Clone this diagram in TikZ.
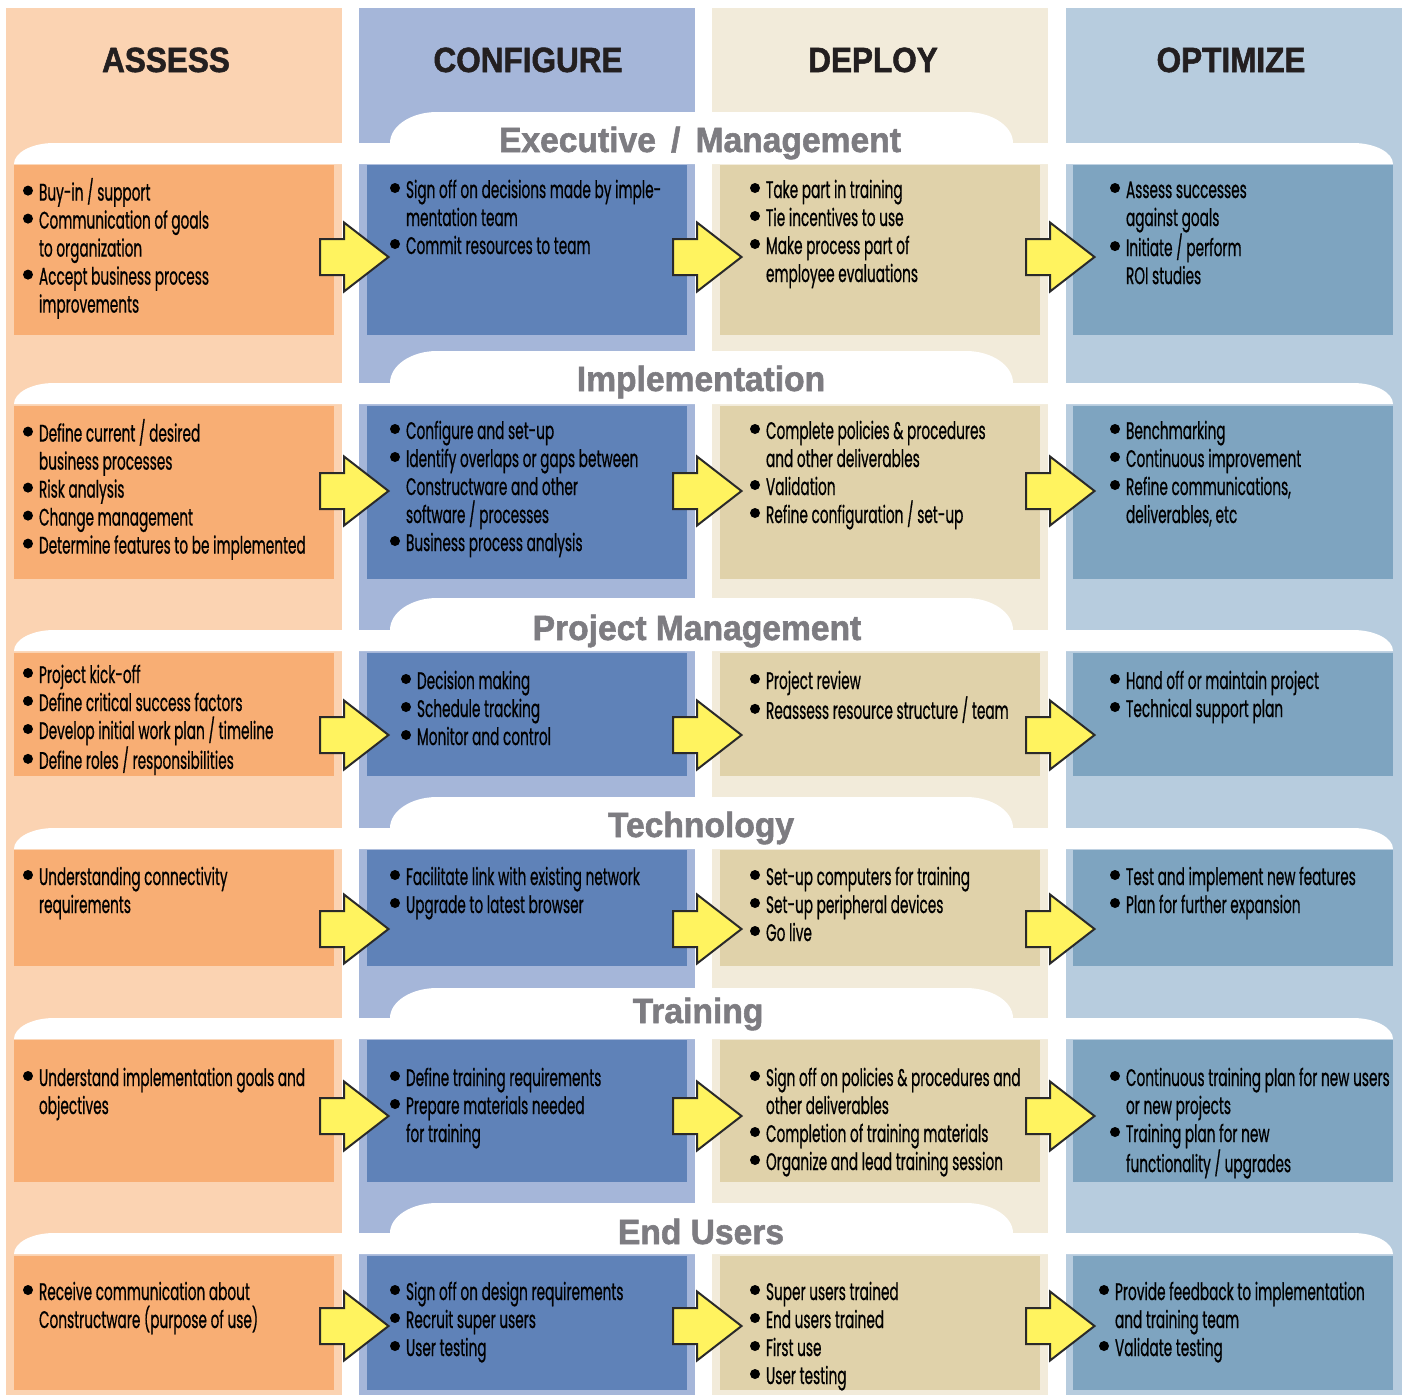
\documentclass[tikz,border=0pt]{standalone}
\usepackage{fontspec}
\usetikzlibrary{calc}
\newfontfamily\bodyf[FakeStretch=0.57,FakeBold=0.6]{Poppins}
\newfontfamily\headf[FakeStretch=0.9,FakeBold=1.5]{Liberation Sans}
\newfontfamily\titf[FakeStretch=0.96,FakeBold=1.6]{Liberation Sans}
\definecolor{aL}{HTML}{FBD3B2}
\definecolor{aD}{HTML}{F8AE74}
\definecolor{cL}{HTML}{A5B6D9}
\definecolor{cD}{HTML}{5F82B8}
\definecolor{dL}{HTML}{F2EBDA}
\definecolor{dD}{HTML}{E0D2AA}
\definecolor{oL}{HTML}{B7CCDE}
\definecolor{oD}{HTML}{7EA4C0}
\definecolor{arrY}{HTML}{FFF35F}
\definecolor{arrK}{HTML}{2A2A2A}
\definecolor{ttlG}{HTML}{7D7C81}
\definecolor{hdK}{HTML}{231F20}
\newsavebox\bulbox
\newcommand\bul{\makebox[16pt][l]{\raisebox{5pt}{\usebox\bulbox}}}
\newcommand\ind{\hspace*{16pt}}
\newcommand\fst{\rule{0pt}{20pt}}
\newcommand\band[3]{%
  \fill[white] (14,#3) .. controls (14,{#3-0.55*(#3-#2)}) and ({54-0.55*40},#2) .. (54,#2)
    -- (390,#2) .. controls (390,{#2-0.55*(#2-#1)}) and ({437-0.55*47},#1) .. (437,#1)
    -- (966,#1) .. controls ({966+0.55*47},#1) and (1013,{#2-0.55*(#2-#1)}) .. (1013,#2)
    -- (1353,#2) .. controls ({1353+0.55*40},#2) and (1393,{#3-0.55*(#3-#2)}) .. (1393,#3) -- cycle;}
\newcommand\barrow[3]{%
  \draw[blockarrow] let \p1=(#1.east), \p2=(#2.west) in
    ({\x1-14pt},{-#3*1pt+18pt}) -- ({\x1+10pt},{-#3*1pt+18pt}) -- ({\x1+10pt},{-#3*1pt+34.5pt})
    -- ({\x2+21.5pt},{-#3*1pt}) -- ({\x1+10pt},{-#3*1pt-34.5pt}) -- ({\x1+10pt},{-#3*1pt-18pt})
    -- ({\x1-14pt},{-#3*1pt-18pt}) -- cycle;}
\begin{document}
\sbox\bulbox{\begin{pgfpicture}\pgfpathcircle{\pgfpoint{5pt}{5pt}}{5pt}\pgfusepath{fill}\end{pgfpicture}}%
\begin{tikzpicture}[x=1pt,y=-1pt,
  dbox/.style={inner sep=0pt,outer sep=0pt,minimum width=320pt,anchor=north west},
  txt/.style={anchor=north west,inner sep=0pt,outer sep=0pt,align=left,text=black,
    font={\bodyf\fontsize{24}{28}\selectfont}},
  hdr/.style={anchor=base,inner sep=0pt,text=hdK,font={\headf\bfseries\fontsize{35}{35}\selectfont}},
  ttl/.style={anchor=base,inner sep=0pt,text=ttlG,font={\titf\bfseries\fontsize{35}{35}\selectfont}},
  blockarrow/.style={fill=arrY,draw=arrK,line width=2pt,line join=miter}]
\useasboundingbox (0,0) rectangle (1407,1395);
\fill[white] (0,0) rectangle (1407,1395);
% column backgrounds
\fill[aL] (6,8) rectangle (342,1395);
\fill[cL] (359,8) rectangle (695,1395);
\fill[dL] (712,8) rectangle (1048,1395);
\fill[oL] (1066,8) rectangle (1402,1395);
% white bands
\band{112}{143}{164}
\band{351}{383}{404}
\band{598}{630}{651}
\band{797}{828}{849}
\band{988}{1018}{1039}
\band{1203}{1233}{1254}
% dark boxes
\foreach \r/\t/\h in {1/165/170,2/406/173,3/653/123,4/850/116,5/1040/142,6/1256/134}{
  \foreach \n/\xx/\c in {a/14/aD,c/367/cD,d/720/dD,o/1073/oD}{
    \node[dbox,fill=\c,minimum height={\h*1pt}] (\n\r) at (\xx,\t) {};
  }
}
% headers
\node[hdr] (hA) at (166,72) {ASSESS};
\node[hdr] (hC) at (528,72) {CONFIGURE};
\node[hdr] (hD) at (873,72) {DEPLOY};
\node[hdr] (hO) at (1231,72) {OPTIMIZE};
% titles
\node[ttl] (t1) at (700,152) {Executive \,/\, Management};
\node[ttl] (t2) at (701,391) {Implementation};
\node[ttl] (t3) at (697,640) {Project Management};
\node[ttl] (t4) at (701,837) {Technology};
\node[ttl] (t5) at (698,1023) {Training};
\node[ttl] (t6) at (701,1244) {End Users};
% row 1
\node[txt] (a1t) at (23,178) {\fst\bul Buy-in / support\\\bul Communication of goals\\\ind to organization\\\bul Accept business process\\\ind improvements};
\node[txt] (c1t) at (390,178) {\fst\bul Sign off on decisions made by imple-\\\ind mentation team\\\bul Commit resources to team};
\node[txt] (d1t) at (750,178) {\fst\bul Take part in training\\\bul Tie incentives to use\\\bul Make process part of\\\ind employee evaluations};
\node[txt] (o1t) at (1110,178) {\fst\bul Assess successes\\\ind against goals\\\bul Initiate / perform\\\ind ROI studies};
% row 2
\node[txt] (a2t) at (23,419) {\fst\bul Define current / desired\\\ind business processes\\\bul Risk analysis\\\bul Change management\\\bul Determine features to be implemented};
\node[txt] (c2t) at (390,419) {\fst\bul Configure and set-up\\\bul Identify overlaps or gaps between\\\ind Constructware and other\\\ind software / processes\\\bul Business process analysis};
\node[txt] (d2t) at (750,419) {\fst\bul Complete policies \& procedures\\\ind and other deliverables\\\bul Validation\\\bul Refine configuration / set-up};
\node[txt] (o2t) at (1110,419) {\fst\bul Benchmarking\\\bul Continuous improvement\\\bul Refine communications,\\\ind deliverables, etc};
% row 3
\node[txt] (a3t) at (23,663) {\fst\bul Project kick-off\\\bul Define critical success factors\\\bul Develop initial work plan / timeline\\\bul Define roles / responsibilities};
\node[txt] (c3t) at (401,669) {\fst\bul Decision making\\\bul Schedule tracking\\\bul Monitor and control};
\node[txt] (d3t) at (750,669) {\fst\bul Project review\\\bul Reassess resource structure / team};
\node[txt] (o3t) at (1110,669) {\fst\bul Hand off or maintain project\\\bul Technical support plan};
% row 4
\node[txt] (a4t) at (23,865) {\fst\bul Understanding connectivity\\\ind requirements};
\node[txt] (c4t) at (390,865) {\fst\bul Facilitate link with existing network\\\bul Upgrade to latest browser};
\node[txt] (d4t) at (750,865) {\fst\bul Set-up computers for training\\\bul Set-up peripheral devices\\\bul Go live};
\node[txt] (o4t) at (1110,865) {\fst\bul Test and implement new features\\\bul Plan for further expansion};
% row 5
\node[txt] (a5t) at (23,1066) {\fst\bul Understand implementation goals and\\\ind objectives};
\node[txt] (c5t) at (390,1066) {\fst\bul Define training requirements\\\bul Prepare materials needed\\\ind for training};
\node[txt] (d5t) at (750,1066) {\fst\bul Sign off on policies \& procedures and\\\ind other deliverables\\\bul Completion of training materials\\\bul Organize and lead training session};
\node[txt] (o5t) at (1110,1066) {\fst\bul Continuous training plan for new users\\\ind or new projects\\\bul Training plan for new\\\ind functionality / upgrades};
% row 6
\node[txt] (a6t) at (23,1280) {\fst\bul Receive communication about\\\ind Constructware (purpose of use)};
\node[txt] (c6t) at (390,1280) {\fst\bul Sign off on design requirements\\\bul Recruit super users\\\bul User testing};
\node[txt] (d6t) at (750,1280) {\fst\bul Super users trained\\\bul End users trained\\\bul First use\\\bul User testing};
\node[txt] (o6t) at (1099,1280) {\fst\bul Provide feedback to implementation\\\ind and training team\\\bul Validate testing};
% arrows
\foreach \rr/\ay in {1/257,2/491,3/735,4/929,5/1116,6/1326}{
  \barrow{a\rr}{c\rr}{\ay}
  \barrow{c\rr}{d\rr}{\ay}
  \barrow{d\rr}{o\rr}{\ay}
}
\end{tikzpicture}
\end{document}
